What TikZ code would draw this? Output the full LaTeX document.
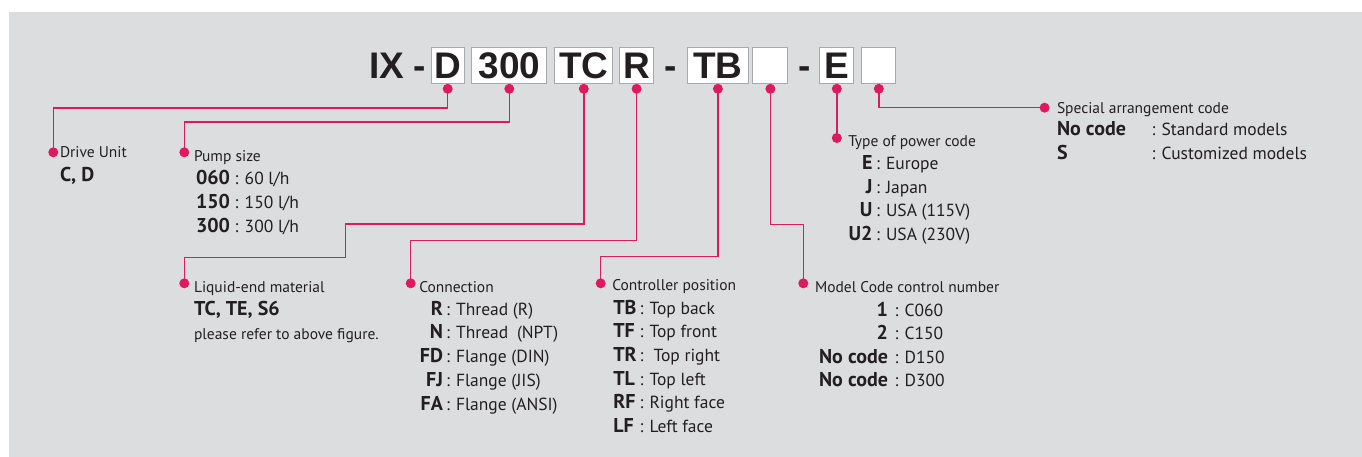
\documentclass[tikz,border=0pt]{standalone}
\usepackage{fontspec}
\setmainfont{PT Sans}
\newfontfamily\titlefont{Liberation Sans}
\usepackage{xcolor}
\usetikzlibrary{positioning}

\definecolor{panel}{HTML}{DCDDDF}
\definecolor{accent}{HTML}{DC1A5C}
\definecolor{ink}{HTML}{231F20}
\definecolor{frame}{HTML}{A7A9AC}

\begin{document}
\begin{tikzpicture}[
    x=1pt, y=-1pt,
    txt/.style={inner sep=0, outer sep=0, text=ink, anchor=base west},
    lbl/.style={txt, font=\fontsize{15.5}{18}\selectfont},
    code/.style={txt, font=\bfseries\fontsize{20}{23}\selectfont},
    val/.style={txt, font=\fontsize{17.5}{20}\selectfont},
    bigtxt/.style={txt, font=\titlefont\bfseries\fontsize{37}{40}\selectfont},
    codebox/.style={draw=frame, line width=1, fill=white, inner xsep=0, inner ysep=4.5,
        text height=27, text depth=0, minimum width=#1, text=ink,
        font=\titlefont\bfseries\fontsize{37}{40}\selectfont},
    dot/.style={circle, fill=accent, inner sep=0, minimum size=10},
    link/.style={draw=accent, line width=1.5},
]
\useasboundingbox (0,0) rectangle (1362,457);
\fill[panel] (9,12) rectangle (1362,457);

% model code
\node[bigtxt] (tIX) at (369,79) {IX};
\node[bigtxt, anchor=base] (h1) at (420,79) {-};
\node[codebox=33.3] (bD)   at (447.7,65.3) {D};
\node[codebox=75]   (b300) at (509.3,65.3) {300};
\node[codebox=58.3] (bTC)  at (583.8,65.3) {TC};
\node[codebox=34]   (bR)   at (636.6,65.3) {R};
\node[bigtxt, anchor=base] (h2) at (671,79) {-};
\node[codebox=60.7] (bTB)  at (717.9,65.3) {TB};
\node[codebox=35]   (bM)   at (770.4,65.3) {};
\node[bigtxt, anchor=base] (h3) at (804.5,79) {-};
\node[codebox=34.3] (bE)   at (836.8,65.3) {E};
\node[codebox=34]   (bS)   at (878.8,65.3) {};

% dots under the boxes
\foreach \b in {D,300,TC,R,TB,M,E,S}
    \node[dot, yshift=-5pt] (d\b) at (b\b.south) {};

% dots at the descriptions
\node[dot] (pDrive) at (53.3,152.3) {};
\node[dot] (pPump)  at (184.3,152.3) {};
\node[dot] (pMat)   at (184.3,283.3) {};
\node[dot] (pConn)  at (410.7,283.3) {};
\node[dot] (pCtrl)  at (600.7,283.3) {};
\node[dot] (pModel) at (803.3,283.3) {};
\node[dot] (pPower) at (836.8,138) {};
\node[dot] (pSpec)  at (1044.6,107.7) {};

% connectors
\draw[link] (dD.center) -- ++(0,19.2) -| (pDrive.center);
\draw[link] (d300.center) -- ++(0,33.4) -| (pPump.center);
\draw[link] (dTC.center) |- (345.7,224) -- (345.7,257.7) -| (pMat.center);
\draw[link] (dR.center) -- ++(0,151.7) -| (pConn.center);
\draw[link] (dTB.center) -- ++(0,167.7) -| (pCtrl.center);
\draw[link] (dM.center) -- ++(0,135.7) -| (pModel.center);
\draw[link] (dE.center) -- (pPower.center);
\draw[link] (dS.center) |- (pSpec.center);

% drive unit
\node[lbl] (lDrive) at (60,157.3) {Drive Unit};
\node[code] (cDrive) at (60,181.7) {C, D};

% pump size
\node[lbl] (lPump) at (194,161.7) {Pump size};
\foreach \c/\v [count=\i from 0] in {060/{60 l/h}, 150/{150 l/h}, 300/{300 l/h}}
    \node[val] (pump\i) at (196,185+23.8*\i) {\textbf{\fontsize{20}{23}\selectfont\c} : \v};

% liquid-end material
\node[lbl] (lMat) at (194,292.3) {Liquid-end material};
\node[code] (cMat) at (194,315.7) {TC, TE, S6};
\node[lbl] (nMat) at (194,339) {please refer to above figure.};

% connection
\node[lbl] (lConn) at (419.3,292.3) {Connection};
\foreach \c/\v [count=\i from 0] in {R/Thread (R), N/Thread\enspace(NPT), FD/Flange (DIN), FJ/Flange (JIS), FA/Flange (ANSI)} {
    \node[code, anchor=base east] (conn-c\i) at (443,315+23.75*\i) {\c};
    \node[val] (conn-v\i) at (446,315+23.75*\i) {: \v};
}

% controller position
\node[lbl] (lCtrl) at (612.3,290) {Controller position};
\foreach \c/\v [count=\i from 0] in {TB/Top back, TF/Top front, TR/\kern4pt Top right, TL/Top left, RF/Right face, LF/Left face} {
    \node[code] (ctrl-c\i) at (613.3,314+23.7*\i) {\c};
    \node[val] (ctrl-v\i) at (639.5,314+23.7*\i) {: \v};
}

% model code control number
\node[lbl] (lModel) at (815,292.7) {Model Code control number};
\foreach \c/\v [count=\i from 0] in {1/C060, 2/C150, No code/D150, No code/D300} {
    \node[code, anchor=base east] (model-c\i) at (888,316+23.6*\i) {\c};
    \node[val] (model-v\i) at (894.5,316+23.6*\i) {: \v};
}

% type of power code
\node[lbl] (lPower) at (848.3,146.7) {Type of power code};
\foreach \c/\v [count=\i from 0] in {E/Europe, J/Japan, U/USA (115V), U2/USA (230V)} {
    \node[code, anchor=base east] (power-c\i) at (872.5,170+23.4*\i) {\c};
    \node[val] (power-v\i) at (876,170+23.4*\i) {: \v};
}

% special arrangement code
\node[lbl] (lSpec) at (1057,113.3) {Special arrangement code};
\foreach \c/\v [count=\i from 0] in {No code/Standard models, S/Customized models} {
    \node[code] (spec-c\i) at (1057,136+24*\i) {\c};
    \node[val] (spec-v\i) at (1151.5,136+24*\i) {: \v};
}
\end{tikzpicture}
\end{document}
